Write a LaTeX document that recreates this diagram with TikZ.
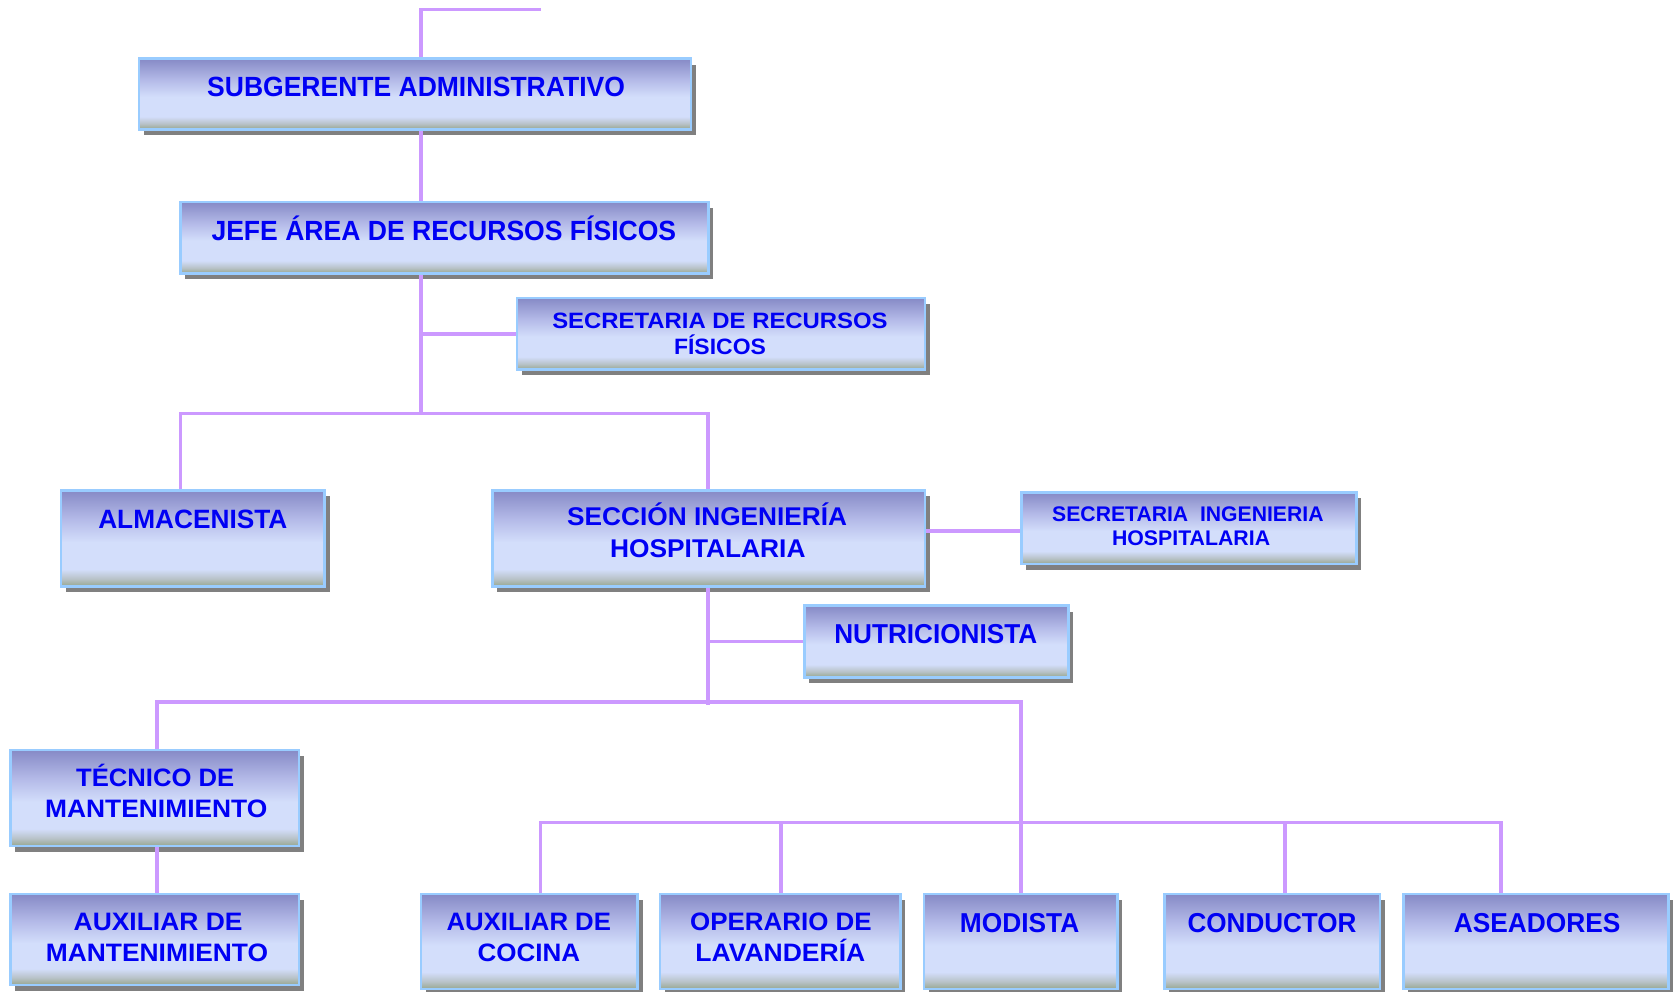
\documentclass[tikz,border=0pt]{standalone}
\usepackage{fontspec}
\setmainfont{Liberation Sans}
\usetikzlibrary{shadows}
\definecolor{lnc}{HTML}{CC99FF}
\definecolor{bord}{HTML}{99CCFF}
\definecolor{shg}{HTML}{808080}
\definecolor{tblue}{HTML}{0000F4}
\definecolor{bgreen}{HTML}{96A68E}
\definecolor{bmid}{HTML}{B8C2C8}
\definecolor{blight}{HTML}{D3DEFB}
\definecolor{bupper}{HTML}{B4BAE8}
\definecolor{btop}{HTML}{868AC6}
\pgfdeclareverticalshading{boxshade}{100bp}{color(0bp)=(bgreen); color(25bp)=(bgreen); color(29bp)=(bmid); color(34bp)=(blight); color(48bp)=(blight); color(60bp)=(bupper); color(75bp)=(btop); color(100bp)=(btop)}
\newsavebox\fitbox
\newcommand\fitw[2]{\sbox\fitbox{#2}\pgfmathsetmacro\fitfac{#1*0.5/\the\wd\fitbox}\scalebox{\fitfac}[1]{\usebox\fitbox}}
\newcommand\fsz[1]{\fontsize{#1}{#1}\selectfont\bfseries}
\tikzset{
  orgbox/.style={draw=bord, line width=1.2pt, shading=boxshade, inner sep=0pt,
    drop shadow={shadow xshift=2.25pt, shadow yshift=-2.75pt, fill=shg, opacity=1}},
  txt/.style={text=tblue, inner sep=0pt, anchor=base},
  conn/.style={draw=lnc, line width=1.65pt}
}
\newcommand\obox[5]{\node[orgbox, minimum width={(#3-#2)*0.5pt}, minimum height={(#5-#4)*0.5pt}] (#1) at ({(#2+#3)/2},{(#4+#5)/2}) {};}
\begin{document}
\begin{tikzpicture}[x=0.5pt,y=-0.5pt]
\useasboundingbox[fill=white] (0,0) rectangle (1568,928);
% helper coordinates
\coordinate (c147) at (147,0);
\coordinate (c169) at (169,0);
\coordinate (c394) at (394,0);
\coordinate (c506) at (506,0);
\coordinate (c663) at (663,0);
\coordinate (c731) at (731,0);
\coordinate (c956) at (956,0);
\coordinate (c1203) at (1203,0);
\coordinate (c1405) at (1405,0);
\coordinate (h497) at (0,497);
\coordinate (h657) at (0,657);
\coordinate (h770) at (0,770);
\coordinate (topend) at (506,9);
\coordinate (j1) at (394,387);
\coordinate (j2) at (663,660);
% boxes
\obox{sub}{130}{647}{55}{121}
\obox{jefe}{169}{663}{189}{256}
\obox{secr}{484}{866}{279}{346}
\obox{alm}{57}{304}{459}{549}
\obox{secc}{461}{866}{459}{549}
\obox{seci}{956}{1270}{461}{528}
\obox{nut}{753}{1000}{567}{634}
\obox{tec}{10}{280}{702}{792}
\obox{auxm}{10}{280}{837}{922}
\obox{auxc}{394}{597}{837}{926}
\obox{oper}{618}{843}{837}{926}
\obox{mod}{865}{1046}{837}{926}
\obox{cond}{1090}{1292}{837}{926}
\obox{asea}{1314}{1562}{837}{926}
% connectors
\draw[conn] (topend) -| (sub.north -| c394);
\draw[conn] (sub.south -| c394) -- (jefe.north -| c394);
\draw[conn] (jefe.south -| c394) -- (j1);
\draw[conn] (secr.west) -- (secr.west -| c394);
\draw[conn] (alm.north -| c169) |- (j1) -| (secc.north -| c663);
\draw[conn] (secc.east |- h497) -- (seci.west |- h497);
\draw[conn] (secc.south -| c663) -- (j2);
\draw[conn] (nut.west) -- (nut.west -| c663);
\draw[conn] (tec.north -| c147) |- (h657 -| c663) -| (mod.north -| c956);
\draw[conn] (tec.south -| c147) -- (auxm.north -| c147);
\draw[conn] (auxc.north -| c506) -- (h770 -| c506) -- (h770 -| c1405) -- (asea.north -| c1405);
\draw[conn] (oper.north -| c731) -- (h770 -| c731);
\draw[conn] (cond.north -| c1203) -- (h770 -| c1203);
% texts
\node[txt, font=\fsz{13}] (t1) at (389.5,90.5) {\fitw{391}{SUBGERENTE ADMINISTRATIVO}};
\node[txt, font=\fsz{13}] (t2) at (415.5,225) {\fitw{435}{JEFE ÁREA DE RECURSOS FÍSICOS}};
\node[txt, font=\fsz{10.4}] (t3a) at (674,307.6) {\fitw{314}{SECRETARIA DE RECURSOS}};
\node[txt, font=\fsz{10.4}] (t3b) at (674,332.3) {\fitw{86}{FÍSICOS}};
\node[txt, font=\fsz{12.4}] (t4) at (180.5,494.6) {\fitw{177}{ALMACENISTA}};
\node[txt, font=\fsz{12}] (t5a) at (662,492.1) {\fitw{262}{SECCIÓN INGENIERÍA}};
\node[txt, font=\fsz{12}] (t5b) at (662.6,522) {\fitw{183}{HOSPITALARIA}};
\node[txt, font=\fsz{9.9}] (t6a) at (1112,488) {\fitw{254}{SECRETARIA\ \ INGENIERIA}};
\node[txt, font=\fsz{9.9}] (t6b) at (1115,511) {\fitw{148}{HOSPITALARIA}};
\node[txt, font=\fsz{12.8}] (t7) at (876,602.8) {\fitw{190}{NUTRICIONISTA}};
\node[txt, font=\fsz{11.8}] (t8a) at (145.3,736.4) {\fitw{148}{TÉCNICO DE}};
\node[txt, font=\fsz{11.8}] (t8b) at (146.3,765.1) {\fitw{208}{MANTENIMIENTO}};
\node[txt, font=\fsz{11.8}] (t9a) at (148,871) {\fitw{158}{AUXILIAR DE}};
\node[txt, font=\fsz{11.8}] (t9b) at (147,900.5) {\fitw{208}{MANTENIMIENTO}};
\node[txt, font=\fsz{11.8}] (t10a) at (495,871) {\fitw{154}{AUXILIAR DE}};
\node[txt, font=\fsz{11.8}] (t10b) at (495,900.5) {\fitw{96}{COCINA}};
\node[txt, font=\fsz{11.8}] (t11a) at (731,871) {\fitw{170}{OPERARIO DE}};
\node[txt, font=\fsz{11.8}] (t11b) at (730.5,900.5) {\fitw{159}{LAVANDERÍA}};
\node[txt, font=\fsz{12.8}] (t12) at (954.5,872.7) {\fitw{111.7}{MODISTA}};
\node[txt, font=\fsz{12.8}] (t13) at (1190.8,872.7) {\fitw{158.2}{CONDUCTOR}};
\node[txt, font=\fsz{12.8}] (t14) at (1439,872.7) {\fitw{156}{ASEADORES}};
\end{tikzpicture}
\end{document}
